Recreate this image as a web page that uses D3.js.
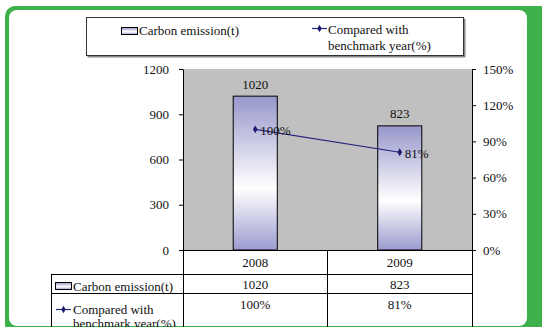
<!DOCTYPE html>
<html><head><meta charset="utf-8">
<script src="https://cdn.jsdelivr.net/npm/d3@7"></script>
<style>html,body{margin:0;padding:0;background:#fff;}svg{display:block;} svg text{font-family:"Liberation Serif","DejaVu Serif",serif !important;}</style>
</head><body>
<script>
const categories = ["2008", "2009"];
const emissions = [1020, 823];
const compared = [1.00, 0.81];
const compareLabels = ["100%", "81%"];
const leftTicks = [0, 300, 600, 900, 1200];
const rightTicks = [0, 0.3, 0.6, 0.9, 1.2, 1.5];
const seriesNames = ["Carbon emission(t)", ["Compared with", "benchmark year(%)"]];

const FONT = "Liberation Serif, DejaVu Serif, serif";
const W = 542, H = 327;
const svg = d3.select("body").append("svg").attr("width", W).attr("height", H).attr("font-family", FONT);
const defs = svg.append("defs");
function mkGrad(id) {
  const g = defs.append("linearGradient").attr("id", id).attr("x1", 0).attr("y1", 0).attr("x2", 0).attr("y2", 1);
  g.append("stop").attr("offset", "0%").attr("stop-color", "#9797cb");
  g.append("stop").attr("offset", "60%").attr("stop-color", "#ffffff");
  g.append("stop").attr("offset", "100%").attr("stop-color", "#9b9bd0");
}
mkGrad("barGrad"); mkGrad("swGrad");

// frame
const green = "#3fb14b";
svg.append("rect").attr("x", 5).attr("y", 6).attr("width", 560).attr("height", 340).attr("rx", 10).attr("fill", green);
svg.append("rect").attr("x", 9).attr("y", 10).attr("width", 518).attr("height", 316).attr("rx", 8).attr("fill", "#fff");

const L = 183, R = 472, T = 69, B = 250;
const x = d3.scaleBand().domain(categories).range([L, R]).padding(0);
const yL = d3.scaleLinear().domain([0, 1200]).range([B, T]);
const yR = d3.scaleLinear().domain([0, 1.5]).range([B, T]);

function txt(g, tx, ty, s, anchor) {
  return g.append("text").attr("x", tx).attr("y", ty).attr("text-anchor", anchor || "start")
    .attr("dominant-baseline", "central").attr("font-size", 13).attr("font-family", FONT).attr("fill", "#111").text(s);
}

svg.append("rect").attr("x", L).attr("y", T).attr("width", R - L).attr("height", B - T).attr("fill", "#c0c0c0");

const bw = x.bandwidth() * 0.305;
svg.selectAll("rect.bar").data(categories).enter().append("rect").attr("class", "bar")
  .attr("x", d => x(d) + x.bandwidth() / 2 - bw / 2)
  .attr("y", (d, i) => yL(emissions[i]))
  .attr("width", bw)
  .attr("height", (d, i) => B - yL(emissions[i]))
  .attr("fill", "url(#barGrad)").attr("stroke", "#000").attr("stroke-width", 1);

categories.forEach((c, i) => txt(svg, x(c) + x.bandwidth() / 2, yL(emissions[i]) - 12, String(emissions[i]), "middle"));

// axes
const axL = svg.append("g").attr("transform", `translate(${L},0)`)
  .call(d3.axisLeft(yL).tickValues(leftTicks).tickSize(4).tickPadding(10).tickSizeOuter(0).tickFormat(d3.format("d")));
const axR = svg.append("g").attr("transform", `translate(${R},0)`)
  .call(d3.axisRight(yR).tickValues(rightTicks).tickSize(4).tickPadding(7).tickSizeOuter(0).tickFormat(d3.format(".0%")));
[axL, axR].forEach(a => {
  a.attr("font-family", FONT).attr("font-size", 13);
  a.selectAll("text").attr("font-size", 13).attr("fill", "#111").attr("font-family", FONT);
  a.selectAll("line,path").attr("stroke", "#000");
});

// line series
const line = d3.line().x((d, i) => x(categories[i]) + x.bandwidth() / 2).y(d => yR(d));
svg.append("path").datum(compared).attr("d", line).attr("fill", "none").attr("stroke", "#24247c").attr("stroke-width", 1.2);
svg.selectAll("path.mk").data(compared).enter().append("path")
  .attr("transform", (d, i) => `translate(${x(categories[i]) + x.bandwidth() / 2},${yR(d)})`)
  .attr("d", d3.symbol().type(d3.symbolDiamond).size(18)).attr("fill", "#1a1a6e");
compared.forEach((d, i) => txt(svg, x(categories[i]) + x.bandwidth() / 2 + 5, yR(d) + 1, compareLabels[i]));

// data table
const tl = 51;
const tbl = svg.append("g").attr("stroke", "#000").attr("stroke-width", 1).attr("shape-rendering", "crispEdges");
tbl.append("line").attr("x1", L).attr("x2", R).attr("y1", B).attr("y2", B);
tbl.append("line").attr("x1", tl).attr("x2", R).attr("y1", 274).attr("y2", 274);
tbl.append("line").attr("x1", tl).attr("x2", R).attr("y1", 293).attr("y2", 293);
tbl.append("line").attr("x1", tl).attr("x2", tl).attr("y1", 274).attr("y2", H + 5);
[L, x("2009"), R].forEach(xx => tbl.append("line").attr("x1", xx).attr("x2", xx).attr("y1", B).attr("y2", H + 5));

categories.forEach((c, i) => {
  const cx = x(c) + x.bandwidth() / 2;
  txt(svg, cx, 262, c, "middle");
  txt(svg, cx, 284.5, String(emissions[i]), "middle");
  txt(svg, cx, 304.5, compareLabels[i], "middle");
});

function swatch(g, sx, sy) {
  g.append("rect").attr("x", sx).attr("y", sy).attr("width", 16).attr("height", 7).attr("fill", "url(#swGrad)").attr("stroke", "#000").attr("stroke-width", 1);
}
function lineKey(g, sx, sy) {
  g.append("line").attr("x1", sx).attr("x2", sx + 15).attr("y1", sy).attr("y2", sy).attr("stroke", "#24247c").attr("stroke-width", 1.2);
  g.append("path").attr("transform", `translate(${sx + 7.5},${sy})`).attr("d", d3.symbol().type(d3.symbolDiamond).size(16)).attr("fill", "#1a1a6e");
}

const tg = svg.append("g");
swatch(tg, 55.5, 282.5);
txt(tg, 73, 286, seriesNames[0]);
lineKey(tg, 56, 309.5);
txt(tg, 73, 309, seriesNames[1][0]);
txt(tg, 73, 323.5, seriesNames[1][1]);

// legend
const lg = svg.append("g");
lg.append("rect").attr("x", 87.5).attr("y", 18.5).attr("width", 378).attr("height", 39).attr("fill", "#888");
lg.append("rect").attr("x", 86.5).attr("y", 17.5).attr("width", 377).attr("height", 38).attr("fill", "#fff").attr("stroke", "#333").attr("stroke-width", 1);
swatch(lg, 121.5, 27.5);
txt(lg, 139, 30, seriesNames[0]);
lineKey(lg, 312, 28.5);
txt(lg, 328, 29.5, seriesNames[1][0]);
txt(lg, 328, 45, seriesNames[1][1]);
</script>
</body></html>
